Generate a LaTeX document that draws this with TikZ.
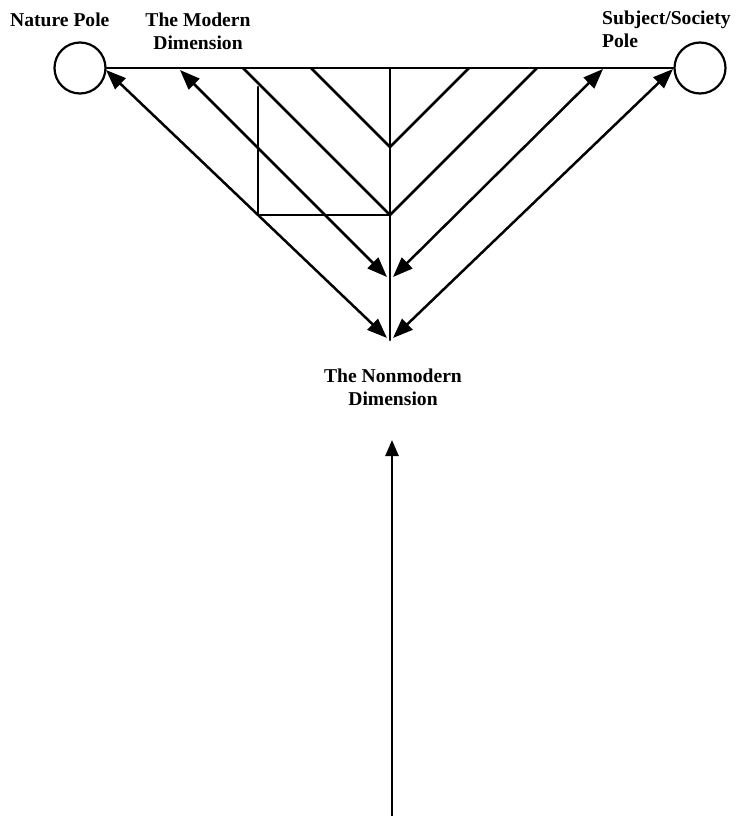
\documentclass[tikz,border=0pt]{standalone}
\usepackage{fontspec}
\setmainfont{Liberation Serif}
\usetikzlibrary{arrows.meta}
\begin{document}
\begin{tikzpicture}[x=1pt,y=-1pt,
  ln/.style={line width=2.5pt,line cap=round},
  dbl/.style={line width=2.5pt,{Triangle[length=20pt,width=15pt]}-{Triangle[length=20pt,width=15pt]}},
  up/.style={line width=2.6pt,-{Triangle[length=16pt,width=13pt]}},
  pole/.style={circle,draw,line width=2.2pt,minimum size=51pt,inner sep=0pt},
  lbl/.style={font=\bfseries\fontsize{19.6}{23}\selectfont,inner sep=0pt}]
\useasboundingbox (0,0) rectangle (738,816);
% poles
\node[pole] (np) at (80,68) {};
\node[pole] (sp) at (700,68) {};
% labels
\node[lbl,anchor=base west] (tnp) at (10,27) {Nature Pole};
\node[lbl,anchor=base,align=center] (tmd) at (198,50) {The Modern\\Dimension};
\node[lbl,anchor=base west,align=left] (tsp) at (602,48) {Subject/Society\\Pole};
\node[lbl,anchor=base,align=center] (tnd) at (393,405) {The Nonmodern\\Dimension};
% coordinates
\coordinate (c) at (390,68);
\coordinate (a1) at (390,147);
\coordinate (a2) at (390,215);
\coordinate (a4) at (390,340);
\coordinate (t1l) at (311,68);
\coordinate (t1r) at (469,68);
\coordinate (t2l) at (243,68);
\coordinate (t2r) at (537,68);
\coordinate (sq1) at (258,87);
\coordinate (sq2) at (258,215);
\coordinate (l3) at (180,70);
\coordinate (r3) at (603,69);
\coordinate (l4) at (106,70);
\coordinate (r4) at (673,69);
\coordinate (e3l) at (387,277);
\coordinate (e3r) at (393,277);
\coordinate (e4l) at (387,338);
\coordinate (e4r) at (393,338);
\coordinate (bb) at (392,816);
\coordinate (bt) at (392,440);
% modern line
\draw[ln] (np.east) -- (sp.west);
\draw[ln] (c) -- (a4);
\draw[ln] (t1l) -- (a1) -- (t1r);
\draw[ln] (t2l) -- (a2) -- (t2r);
\draw[ln] (sq1) -- (sq2) -- (a2);
% double arrows
\draw[dbl] (l3) -- (e3l);
\draw[dbl] (r3) -- (e3r);
\draw[dbl] (l4) -- (e4l);
\draw[dbl] (r4) -- (e4r);
% bottom arrow
\draw[up] (bb) -- (bt);
\end{tikzpicture}
\end{document}
